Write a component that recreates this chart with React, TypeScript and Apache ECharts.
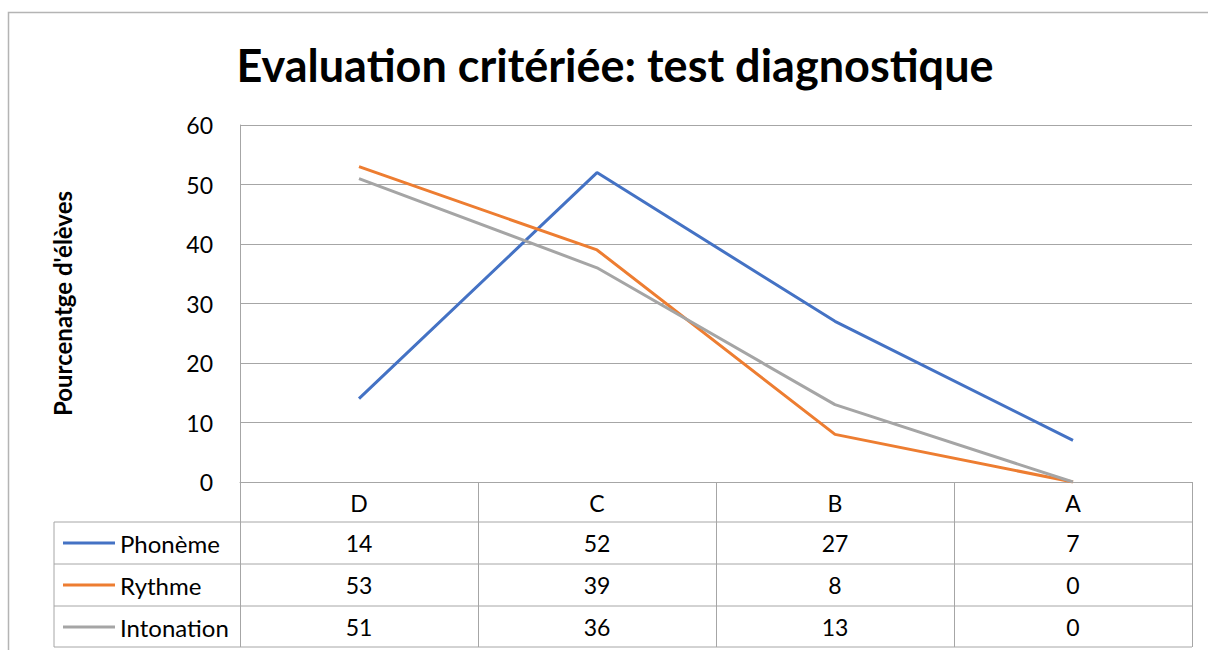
import React, { useEffect, useRef } from "react";
import * as echarts from "echarts";

const categories = ["D", "C", "B", "A"];
const phoneme = [14, 52, 27, 7];
const rythme = [53, 39, 8, 0];
const intonation = [51, 36, 13, 0];
const seriesNames = ["Phonème", "Rythme", "Intonation"];
const seriesData = [phoneme, rythme, intonation];
const colors = ["#4472C4", "#ED7D31", "#A5A5A5"];
const titleText = "Evaluation critériée: test diagnostique";
const yAxisName = "Pourcenatge d'élèves";

const FONT = "Lato, 'Open Sans', sans-serif";
const GRID_COLOR = "#a6a6a6";

export default function App() {
  const ref = useRef<HTMLDivElement>(null);

  useEffect(() => {
    if (!ref.current) return;
    const chart = echarts.init(ref.current, undefined, { renderer: "svg" });
    const option: any = {
      animation: false,
      backgroundColor: "#ffffff",
      textStyle: { fontFamily: FONT },
      grid: { left: 240, right: 16, top: 125, bottom: 168 },
      xAxis: {
        type: "category",
        data: categories,
        boundaryGap: true,
        axisLine: { show: true, lineStyle: { color: GRID_COLOR, width: 1 } },
        axisTick: { show: true, length: 165, lineStyle: { color: GRID_COLOR, width: 1 } },
        axisLabel: { fontSize: 23, color: "#000", margin: 9, fontFamily: FONT },
        splitLine: { show: false },
      },
      yAxis: {
        type: "value",
        min: 0,
        max: 60,
        interval: 10,
        name: yAxisName,
        nameLocation: "middle",
        nameGap: 166,
        nameTextStyle: { fontSize: 24, fontWeight: "bold", color: "#000", fontFamily: FONT },
        axisLine: { show: true, lineStyle: { color: GRID_COLOR, width: 1 } },
        axisTick: { show: false },
        axisLabel: { fontSize: 23, color: "#000", margin: 27, fontFamily: FONT },
        splitLine: { show: true, lineStyle: { color: GRID_COLOR, width: 1 } },
      },
      series: seriesNames.map((name, i) => ({
        name,
        type: "line",
        data: seriesData[i],
        symbol: "none",
        lineStyle: { color: colors[i], width: 3 },
        itemStyle: { color: colors[i] },
      })),
    };
    chart.setOption(option);

    const xs = categories.map((_, i) => chart.convertToPixel({ xAxisIndex: 0 }, i) as number);
    const bw = xs.length > 1 ? xs[1] - xs[0] : 238;
    const right = xs[xs.length - 1] + bw / 2;
    const y0 = chart.convertToPixel({ yAxisIndex: 0 }, 0) as number;
    const tableLeft = 54;
    const rowLines = [y0 + 40, y0 + 82, y0 + 124, y0 + 165];
    const rowCenters = [y0 + 61, y0 + 103, y0 + 145];

    const elements: any[] = [];
    elements.push({
      type: "rect",
      shape: { x: 8.5, y: 12.5, width: 1300, height: 700 },
      style: { fill: "none", stroke: "#b4b4b4", lineWidth: 1.5 },
      silent: true,
    });
    elements.push({
      type: "text",
      x: 615,
      y: 65,
      style: {
        text: titleText,
        fontSize: 45,
        fontWeight: "bold",
        fontFamily: FONT,
        fill: "#000",
        align: "center",
        verticalAlign: "middle",
      },
    });
    rowLines.forEach((ly) => {
      elements.push({
        type: "line",
        shape: { x1: tableLeft, y1: ly, x2: right, y2: ly },
        style: { stroke: GRID_COLOR, lineWidth: 1 },
      });
    });
    elements.push({
      type: "line",
      shape: { x1: tableLeft, y1: rowLines[0], x2: tableLeft, y2: rowLines[3] },
      style: { stroke: GRID_COLOR, lineWidth: 1 },
    });
    seriesNames.forEach((name, r) => {
      const cy = rowCenters[r];
      elements.push({
        type: "line",
        shape: { x1: 63, y1: cy, x2: 115, y2: cy },
        style: { stroke: colors[r], lineWidth: 3 },
      });
      elements.push({
        type: "text",
        x: 120,
        y: cy,
        style: {
          text: name,
          fontSize: 24,
          fontFamily: FONT,
          fill: "#000",
          align: "left",
          verticalAlign: "middle",
        },
      });
      seriesData[r].forEach((v, c) => {
        elements.push({
          type: "text",
          x: xs[c],
          y: cy,
          style: {
            text: String(v),
            fontSize: 23,
            fontFamily: FONT,
            fill: "#000",
            align: "center",
            verticalAlign: "middle",
          },
        });
      });
    });
    chart.setOption({ graphic: { elements } });

    return () => chart.dispose();
  }, []);

  return (
    <div
      ref={ref}
      style={{ position: "absolute", left: 0, top: 0, width: 1208, height: 650 }}
    />
  );
}
